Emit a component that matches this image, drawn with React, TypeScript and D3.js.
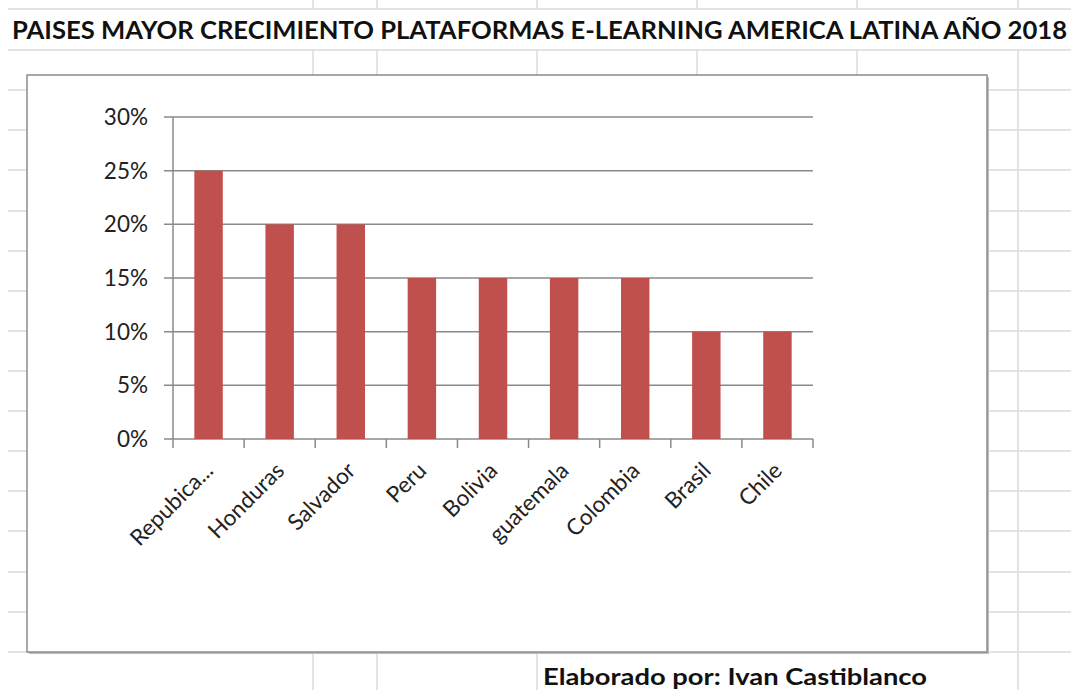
import * as d3 from 'd3';
import React from 'react';

const categories = ['Repubica...', 'Honduras', 'Salvador', 'Peru', 'Bolivia', 'guatemala', 'Colombia', 'Brasil', 'Chile'];
const values = [0.25, 0.2, 0.2, 0.15, 0.15, 0.15, 0.15, 0.1, 0.1];
const yTicks = [0, 0.05, 0.1, 0.15, 0.2, 0.25, 0.3];

const title = 'PAISES MAYOR CRECIMIENTO PLATAFORMAS E-LEARNING AMERICA LATINA AÑO 2018';
const footer = 'Elaborado por: Ivan Castiblanco';

// spreadsheet background grid
const rowLines = [9, 50, 90, 130, 170, 211, 251, 291, 331, 371, 411, 451, 491, 531, 572, 612, 652];
const colLines = [313, 377, 537, 697, 857, 1018];

const W = 1071;
const H = 690;
const font = 'Lato, "Open Sans", sans-serif';

export default function App() {
  const plot = { left: 173, right: 813, top: 117, bottom: 439 };

  const x = d3
    .scaleBand()
    .domain(categories)
    .range([plot.left, plot.right])
    .paddingInner(0.6)
    .paddingOuter(0.3);
  const step = x.step();

  const y = d3.scaleLinear().domain([0, 0.3]).range([plot.bottom, plot.top]);
  const pct = d3.format('.0%');

  const box = { x: 27, y: 75, w: 960, h: 577 };

  // where cell text overflows, the vertical grid lines are hidden
  const colSegments: [number, number, number][] = [];
  colLines.forEach((cx) => {
    colSegments.push([cx, 0, 9]);
    colSegments.push([cx, 50, 652]);
    if (cx < 540 || cx > 1000) colSegments.push([cx, 652, H]);
  });

  return (
    <svg width={W} height={H} style={{ position: 'absolute', left: 0, top: 0, background: '#fff' }}>
      <g stroke="#dadcdd" strokeWidth={1.5}>
        {rowLines.map((ry) => (
          <line key={'r' + ry} x1={8} x2={W} y1={ry} y2={ry} />
        ))}
        {colSegments.map(([cx, a, b], i) => (
          <line key={'c' + i} x1={cx} x2={cx} y1={a} y2={b} />
        ))}
      </g>

      <text
        x={12}
        y={39}
        fontFamily={font}
        fontWeight="bold"
        fontSize={24}
        fill="#111"
        textLength={1055}
        lengthAdjust="spacingAndGlyphs"
      >
        {title}
      </text>

      <rect x={box.x + 2} y={box.y + 2} width={box.w} height={box.h} fill="#bdbdbd" />
      <rect x={box.x} y={box.y} width={box.w} height={box.h} fill="#fff" stroke="#8c8c8c" strokeWidth={1.5} />

      <g stroke="#8a8a8a" strokeWidth={1.5}>
        {yTicks.map((t) => (
          <line key={'g' + t} x1={plot.left - 9} x2={plot.right} y1={y(t)} y2={y(t)} />
        ))}
        <line x1={plot.left} x2={plot.left} y1={plot.top} y2={plot.bottom} />
        {d3.range(categories.length + 1).map((i) => (
          <line
            key={'t' + i}
            x1={plot.left + i * step}
            x2={plot.left + i * step}
            y1={plot.bottom}
            y2={plot.bottom + 9}
          />
        ))}
      </g>

      {categories.map((c, i) => (
        <rect
          key={c}
          x={x(c)}
          y={y(values[i])}
          width={x.bandwidth()}
          height={plot.bottom - y(values[i])}
          fill="#c0504d"
        />
      ))}

      {yTicks.map((t) => (
        <text
          key={'l' + t}
          x={plot.left - 25}
          y={y(t)}
          dy="0.36em"
          textAnchor="end"
          fontFamily={font}
          fontSize={22.5}
          fill="#222"
        >
          {pct(t)}
        </text>
      ))}

      {categories.map((c) => {
        const cx = (x(c) as number) + x.bandwidth() / 2 + 6;
        const cy = plot.bottom + 33;
        return (
          <text
            key={'x' + c}
            x={cx}
            y={cy}
            textAnchor="end"
            transform={`rotate(-45, ${cx}, ${cy})`}
            fontFamily={font}
            fontSize={22.5}
            fill="#222"
          >
            {c}
          </text>
        );
      })}

      <text
        x={543}
        y={685}
        fontFamily={font}
        fontWeight="bold"
        fontSize={23}
        fill="#111"
        textLength={384}
        lengthAdjust="spacingAndGlyphs"
      >
        {footer}
      </text>
    </svg>
  );
}
